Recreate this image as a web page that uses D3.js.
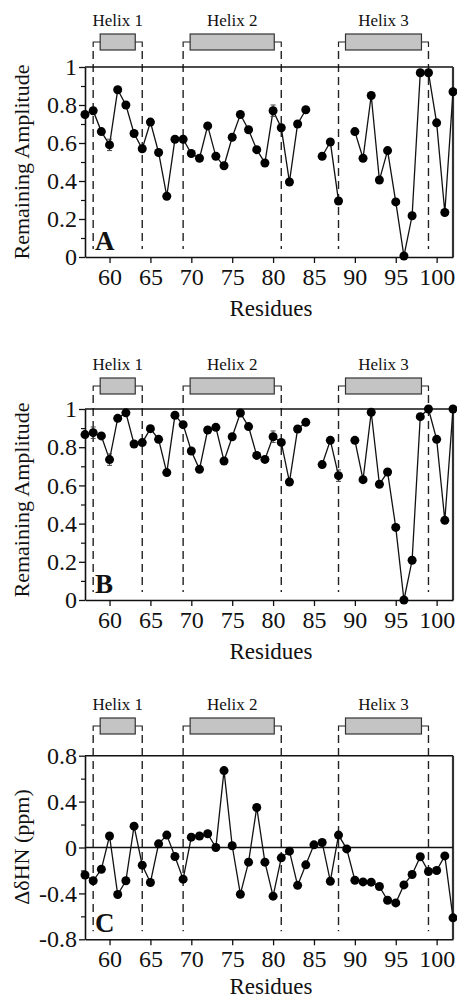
<!DOCTYPE html>
<html>
<head>
<meta charset="utf-8">
<script src="https://cdn.jsdelivr.net/npm/d3@7"></script>
<style>
html,body{margin:0;padding:0;background:#fff;}
svg{display:block;}
text{font-family:"Liberation Serif","Times New Roman",serif;fill:#111;}
</style>
</head>
<body>
<svg id="chart" width="457" height="1000"></svg>
<script>
// ---------- DATA ----------
const residues = [57,58,59,60,61,62,63,64,65,66,67,68,69,70,71,72,73,74,75,76,77,78,79,80,
  81,82,83,84,85,86,87,88,89,90,91,92,93,94,95,96,97,98,99,100,101,102];

const amplitudeA = [0.75,0.77,0.66,0.59,0.88,0.80,0.65,0.57,0.71,0.55,0.32,0.62,0.62,0.545,0.52,0.69,
  0.53,0.48,0.63,0.75,0.67,0.565,0.495,0.77,0.68,0.395,0.70,0.775,null,0.53,0.605,0.295,null,
  0.66,0.52,0.85,0.405,0.56,0.29,0.005,0.217,0.97,0.97,0.706,0.234,0.87];
const errorA = [0,0,0,0.03,0,0,0,0,0,0,0,0,0,0,0,0,0,0,0,0,0,0,0,0.03,0,0,0,0,null,0,0,0,null,
  0,0,0,0,0,0,0,0,0,0,0,0,0];

const amplitudeB = [0.866,0.876,0.859,0.735,0.951,0.98,0.817,0.824,0.897,0.841,0.667,0.967,0.918,0.78,
  0.684,0.89,0.904,0.728,0.855,0.979,0.908,0.757,0.736,0.855,0.825,0.618,0.895,0.93,null,0.709,
  0.836,0.651,null,0.836,0.63,0.983,0.606,0.67,0.38,0.0,0.208,0.96,1.0,0.841,0.417,1.0];
const errorB = [0,0.03,0,0.03,0,0,0,0,0,0,0,0,0,0,0,0,0,0,0,0,0,0,0,0.03,0,0,0,0,null,0,0,0.03,null,
  0,0,0,0,0,0,0,0,0,0,0,0,0];

const deltaHN = [-0.24,-0.29,-0.19,0.10,-0.41,-0.29,0.186,-0.154,-0.305,0.032,0.108,-0.078,-0.276,0.09,
  0.10,0.12,0.0,0.67,0.015,-0.407,-0.128,0.349,-0.128,-0.424,-0.09,-0.032,-0.33,-0.151,0.023,0.044,
  -0.294,0.108,-0.012,-0.285,-0.30,-0.302,-0.34,-0.46,-0.483,-0.326,-0.235,-0.081,-0.209,-0.20,-0.073,-0.613];

const helixNames = ["Helix 1","Helix 2","Helix 3"];
const helixStart = [58,69,88];
const helixEnd = [64,81,99];

const xTicks = [60,65,70,75,80,85,90,95,100];
const ampTicks = [0,0.2,0.4,0.6,0.8,1];
const ampTickLabels = ["0","0.2","0.4","0.6","0.8","1"];
const ampMinor = [0.1,0.3,0.5,0.7,0.9];
const hnTicks = [-0.8,-0.4,0,0.4,0.8];
const hnTickLabels = ["-0.8","-0.4","0","0.4","0.8"];
const hnMinor = [-0.6,-0.2,0.2,0.6];

// ---------- DRAW ----------
const svg = d3.select("#chart");
const x = d3.scaleLinear().domain([57,102]).range([85,453]);

function drawPanel(cfg){
  const g = svg.append("g");
  const y = d3.scaleLinear().domain(cfg.domain).range([cfg.bottom, cfg.top]);
  const bandY = cfg.bandY;

  // helix annotations
  helixNames.forEach((name,i)=>{
    const x0 = x(helixStart[i]), x1 = x(helixEnd[i]);
    g.append("text").attr("x",(x0+x1)/2).attr("y",bandY-16)
      .attr("text-anchor","middle").style("font-size","17px").text(name);
    g.append("path")
      .attr("d",`M${x0},${bandY+5}V${bandY}H${x1}V${bandY+5}`)
      .attr("fill","none").attr("stroke","#222").attr("stroke-width",1.2);
    g.append("rect").attr("x",x0+7).attr("y",bandY-8).attr("width",x1-x0-14).attr("height",16)
      .attr("fill","#c4c4c4").attr("stroke","#333").attr("stroke-width",1.2);
    [x0,x1].forEach(xx=>{
      g.append("line").attr("x1",xx).attr("x2",xx).attr("y1",bandY+9).attr("y2",cfg.bottom-8)
        .attr("stroke","#222").attr("stroke-width",1.4).attr("stroke-dasharray","8,5");
    });
  });

  // frame: top and right
  g.append("line").attr("x1",x(57)).attr("x2",x(102)).attr("y1",cfg.top).attr("y2",cfg.top)
    .attr("stroke","#111").attr("stroke-width",1.5);
  g.append("line").attr("x1",x(102)).attr("x2",x(102)).attr("y1",cfg.top).attr("y2",cfg.bottom)
    .attr("stroke","#333").attr("stroke-width",2.2);

  if(cfg.zeroLine){
    g.append("line").attr("x1",x(57)).attr("x2",x(102)).attr("y1",y(0)).attr("y2",y(0))
      .attr("stroke","#111").attr("stroke-width",1.3);
  }

  // axes
  const xAxis = d3.axisBottom(x).tickValues(xTicks).tickSize(6).tickSizeOuter(0).tickPadding(5)
    .tickFormat(d3.format("d"));
  const xa = g.append("g").attr("transform",`translate(0,${cfg.bottom})`).call(xAxis);
  xa.select(".domain").attr("stroke","#111").attr("stroke-width",1.6);
  xa.selectAll(".tick line").attr("stroke","#111").attr("stroke-width",1.3);
  xa.selectAll(".tick text").style("font-size","24px").style("font-family","Liberation Serif, serif").attr("fill","#111");

  const yMinor = d3.axisLeft(y).tickValues(cfg.minor).tickSize(4).tickFormat("");
  const ym = g.append("g").attr("transform",`translate(${x(57)},0)`).call(yMinor);
  ym.select(".domain").remove();
  ym.selectAll(".tick line").attr("stroke","#111").attr("stroke-width",1.2);

  const yAxis = d3.axisLeft(y).tickValues(cfg.ticks).tickSize(6).tickSizeOuter(0).tickPadding(2)
    .tickFormat((d,i)=>cfg.tickLabels[i]);
  const ya = g.append("g").attr("transform",`translate(${x(57)},0)`).call(yAxis);
  ya.select(".domain").attr("stroke","#111").attr("stroke-width",1.6);
  ya.selectAll(".tick line").attr("stroke","#111").attr("stroke-width",1.3);
  ya.selectAll(".tick text").style("font-size","24px").style("font-family","Liberation Serif, serif").attr("fill","#111");

  // axis titles
  g.append("text").attr("x",271).attr("y",cfg.bottom+cfg.titleGap).attr("text-anchor","middle")
    .style("font-size","23px").text("Residues");
  g.append("text").attr("transform",`translate(29,${cfg.labelY}) rotate(-90)`)
    .attr("text-anchor","middle").style("font-size","22px").text(cfg.yLabel);

  // panel letter
  g.append("text").attr("x",95).attr("y",cfg.bottom-7).style("font-size","27px")
    .style("font-weight","bold").text(cfg.letter);

  // data
  const pts = residues.map((r,i)=>({r:r, v:cfg.values[i], e:cfg.errors?cfg.errors[i]:0}));
  const line = d3.line().defined(d=>d.v!=null).x(d=>x(d.r)).y(d=>y(d.v));
  g.append("path").datum(pts).attr("d",line).attr("fill","none")
    .attr("stroke","#111").attr("stroke-width",1.3);
  const valid = pts.filter(d=>d.v!=null);
  valid.filter(d=>d.e>0).forEach(d=>{
    g.append("path")
      .attr("d",`M${x(d.r)},${y(d.v+d.e)}V${y(d.v-d.e)}M${x(d.r)-2.5},${y(d.v+d.e)}H${x(d.r)+2.5}M${x(d.r)-2.5},${y(d.v-d.e)}H${x(d.r)+2.5}`)
      .attr("stroke","#444").attr("stroke-width",1).attr("fill","none");
  });
  g.selectAll("circle.pt").data(valid).enter().append("circle")
    .attr("cx",d=>x(d.r)).attr("cy",d=>y(d.v)).attr("r",4.5).attr("fill","#000");
}

drawPanel({top:67,bottom:257,domain:[0,1],ticks:ampTicks,tickLabels:ampTickLabels,minor:ampMinor,
  bandY:42,yLabel:"Remaining Amplitude",labelY:162,letter:"A",values:amplitudeA,errors:errorA,titleGap:59});
drawPanel({top:409,bottom:600,domain:[0,1],ticks:ampTicks,tickLabels:ampTickLabels,minor:ampMinor,
  bandY:386,yLabel:"Remaining Amplitude",labelY:500,letter:"B",values:amplitudeB,errors:errorB,titleGap:59});
drawPanel({top:755.7,bottom:939.3,domain:[-0.8,0.8],ticks:hnTicks,tickLabels:hnTickLabels,minor:hnMinor,
  bandY:726,yLabel:"ΔδHN (ppm)",labelY:847,letter:"C",values:deltaHN,zeroLine:true,titleGap:55});
</script>
</body>
</html>
